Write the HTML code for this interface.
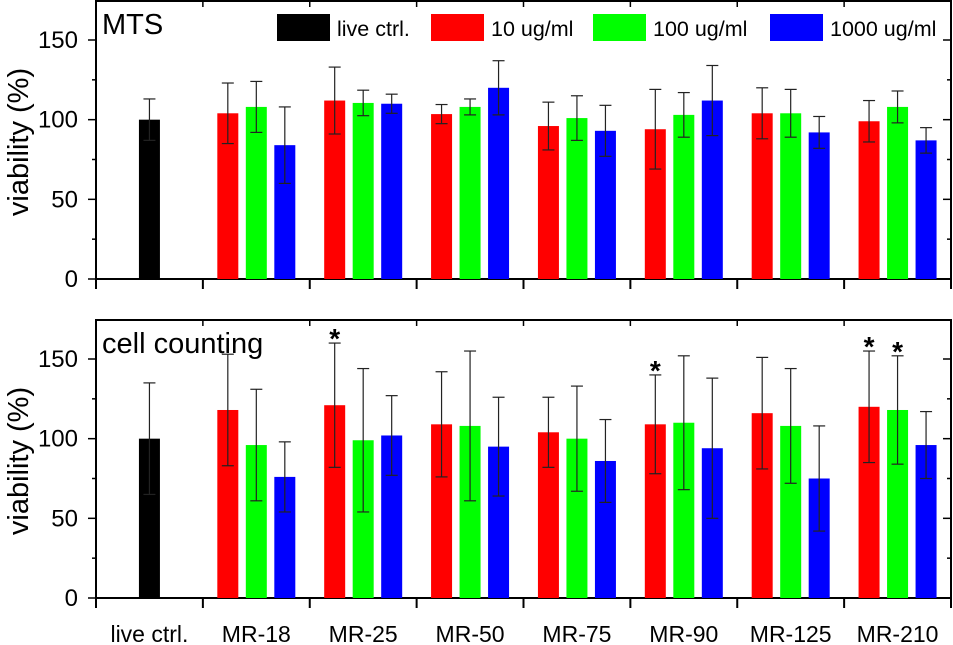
<!DOCTYPE html>
<html><head><meta charset="utf-8"><style>
body{margin:0;background:#fff}
svg{display:block;font-family:"Liberation Sans",Arial,sans-serif}
</style></head><body>
<svg id="c" width="953" height="645"></svg>
<script>
const categories=["live ctrl.","MR-18","MR-25","MR-50","MR-75","MR-90","MR-125","MR-210"];
const seriesNames=["10 ug/ml","100 ug/ml","1000 ug/ml"];
const seriesColors=["#ff0000","#00ff00","#0000ff"];
const ctrlMts=[100,13];
const mts10=[104,112,103.5,96,94,104,99];
const mts10Err=[19,21,6,15,25,16,13];
const mts100=[108,110.5,108,101,103,104,108];
const mts100Err=[16,8,5,14,14,15,10];
const mts1000=[84,110,120,93,112,92,87];
const mts1000Err=[24,6,17,16,22,10,8];
const ctrlCount=[100,35];
const cnt10=[118,121,109,104,109,116,120];
const cnt10Err=[35,39,33,22,31,35,35];
const cnt100=[96,99,108,100,110,108,118];
const cnt100Err=[35,45,47,33,42,36,34];
const cnt1000=[76,102,95,86,94,75,96];
const cnt1000Err=[22,25,31,26,44,33,21];
const cntStars=[[false,true,false,false,true,false,true],[false,false,false,false,false,false,true],[false,false,false,false,false,false,false]];
const yTicks=[0,50,100,150];

const svg=document.getElementById('c');
const NS='http://www.w3.org/2000/svg';
function el(t,a,p){const e=document.createElementNS(NS,t);for(const k in a)e.setAttribute(k,a[k]);(p||svg).appendChild(e);return e;}
const X0=96,X1=951,GW=(X1-X0)/8;
function xc(i){return X0+GW*(i+0.5);}

function panel(name,top,bot,title,ctrl,vals,errs,stars){
  const g=el('g',{});
  
  
  const y=v=>bot-(bot-(top+39))*v/150;
  const fr=el('rect',{x:X0,y:top,width:X1-X0,height:bot-top,fill:'none',stroke:'#000','stroke-width':2},g);
  
  
  for(let v=0;v<=175;v+=25){
    if(y(v)<top)break;
    const major=v%50===0;
    el('line',{x1:X0,x2:X0-(major?8:4),y1:y(v),y2:y(v),stroke:'#000','stroke-width':1.5},g);
    el('line',{x1:X1,x2:X1-(major?8:4),y1:y(v),y2:y(v),stroke:'#000','stroke-width':1.5},g);
  }
  yTicks.forEach(v=>{
    const t=el('text',{x:X0-18,y:y(v)+8,'text-anchor':'end','font-size':24},g);
    t.textContent=v;
    
    
  });
  for(let i=0;i<=8;i++){
    const xx=X0+GW*i;
    el('line',{x1:xx,x2:xx,y1:bot,y2:bot+10,stroke:'#000','stroke-width':2},g);
    el('line',{x1:xx,x2:xx,y1:top,y2:top+6,stroke:'#000','stroke-width':1.5},g);
  }
  const yt=el('text',{x:0,y:0,transform:`translate(28,${(top+bot)/2+2}) rotate(-90)`,'text-anchor':'middle','font-size':29},g);
  yt.textContent='viability (%)';
  
  
  const tt=el('text',{x:102,y:top+33,'font-size':29},g);
  tt.textContent=title;
  
  
  const W=21;
  function bar(cx,v,e,color,star,label){
    const r=el('rect',{x:cx-W/2,y:y(v),width:W,height:bot-y(v),fill:color},g);
    
    
    el('line',{x1:cx,x2:cx,y1:y(v+e),y2:y(v-e),stroke:'#222','stroke-width':1.2},g);
    el('line',{x1:cx-6,x2:cx+6,y1:y(v+e),y2:y(v+e),stroke:'#222','stroke-width':1.2},g);
    el('line',{x1:cx-6,x2:cx+6,y1:y(v-e),y2:y(v-e),stroke:'#222','stroke-width':1.2},g);
    if(star){const s=el('text',{x:cx,y:y(v+e)+5,'text-anchor':'middle','font-size':28,'font-weight':'bold'},g);s.textContent='*';
      
      }
  }
  bar(xc(0),ctrl[0],ctrl[1],'#000',false,'bar-live-ctrl');
  for(let s=0;s<3;s++)for(let i=0;i<7;i++)
    bar(xc(i+1)+(s-1)*28.5,vals[s][i],errs[s][i],seriesColors[s],stars?stars[s][i]:false,'bar-'+categories[i+1].toLowerCase()+'-'+s);
}
panel('mts',1,279,'MTS',ctrlMts,[mts10,mts100,mts1000],[mts10Err,mts100Err,mts1000Err],null);
panel('cell-counting',320,598,'cell counting',ctrlCount,[cnt10,cnt100,cnt1000],[cnt10Err,cnt100Err,cnt1000Err],cntStars);

categories.forEach((c,i)=>{
  const t=el('text',{x:xc(i),y:642,'text-anchor':'middle','font-size':23});
  t.textContent=c;
  
  
});
const leg=[["live ctrl.","#000",277],["10 ug/ml","#ff0000",431],["100 ug/ml","#00ff00",593],["1000 ug/ml","#0000ff",770]];
leg.forEach(l=>{
  const r=el('rect',{x:l[2],y:14,width:53,height:27,fill:l[1]});
  
  
  const t=el('text',{x:l[2]+60,y:36,'font-size':21.5});
  t.textContent=l[0];
  
  
});
</script>
</body></html>
